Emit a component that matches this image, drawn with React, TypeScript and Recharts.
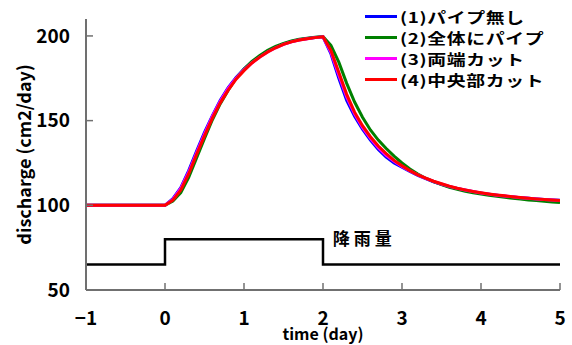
import { LineChart, Line, XAxis, YAxis, ReferenceDot } from "recharts";

const FONT = '"Noto Sans CJK JP", "Noto Sans", sans-serif';

const time = [-1, 0, 0.1, 0.2, 0.3, 0.4, 0.5, 0.6, 0.7, 0.8, 0.9, 1.0, 1.1, 1.2, 1.3, 1.4, 1.5, 1.6, 1.7, 1.8, 1.9, 2.0,
  2.1, 2.2, 2.3, 2.4, 2.5, 2.6, 2.7, 2.8, 2.9, 3.0, 3.1, 3.2, 3.3, 3.4, 3.5, 3.6, 3.7, 3.8, 3.9, 4.0,
  4.1, 4.2, 4.3, 4.4, 4.5, 4.6, 4.7, 4.8, 4.9, 5.0];

const noPipe = [100, 100, 104, 110.5, 120.5, 132, 143, 153, 162, 169.5, 175.5, 180.5, 184.5, 188, 191, 193.3, 195.2, 196.7, 197.7, 198.5, 199.1, 199.5,
  189.5, 175, 162, 152.5, 145, 138.5, 133, 128.5, 125, 122.5, 120, 117.7, 115.7, 113.9, 112.4, 111, 109.9, 108.9, 108, 107.2,
  106.5, 105.9, 105.4, 104.9, 104.5, 104.1, 103.8, 103.5, 103.2, 103];

const fullPipe = [100, 100, 102.5, 107.5, 116.5, 128, 139.5, 150.5, 160, 168, 175, 180.5, 185, 188.5, 191.5, 193.8, 195.6, 197, 198, 198.7, 199.2, 199.6,
  194.5, 184.5, 172, 161, 152, 144.5, 138.5, 133.5, 129, 125, 121.5, 118.5, 116, 114, 112.2, 110.7, 109.4, 108.3, 107.4, 106.6,
  105.9, 105.3, 104.7, 104.2, 103.7, 103.2, 102.8, 102.4, 102, 101.6];

const bothEndsCut = [100, 100, 103.5, 110, 119.5, 131, 142, 152.5, 161.5, 169, 175, 180, 184, 187.5, 190.5, 193, 195, 196.5, 197.6, 198.4, 199, 199.5,
  190.5, 177, 164, 154, 146, 139.5, 134, 129.5, 126, 123, 120.3, 117.9, 115.9, 114.1, 112.6, 111.2, 110, 109, 108.1, 107.3,
  106.6, 106, 105.5, 105, 104.5, 104.1, 103.7, 103.4, 103.1, 102.8];

const centerCut = [100, 100, 103, 109, 118.5, 130, 141, 151.5, 160.5, 168, 174.5, 179.5, 184, 187.5, 190.5, 193, 195, 196.5, 197.6, 198.4, 199, 199.5,
  191.5, 178.5, 165.5, 155, 147, 140.5, 135, 130.5, 126.5, 123.3, 120.5, 118, 116, 114.2, 112.7, 111.3, 110.1, 109.1, 108.2, 107.4,
  106.7, 106.1, 105.6, 105.1, 104.6, 104.2, 103.8, 103.4, 103.1, 102.8];

const rainTime = [-1, 0, 2, 5];
const rainValue = [65, 80, 65, 65];

const xTicks = [-1, 0, 1, 2, 3, 4, 5];
const yTicks = [50, 100, 150, 200];

const series = [
  { key: "s1", name: "(1)パイプ無し", color: "#0000ff" },
  { key: "s2", name: "(2)全体にパイプ", color: "#008000" },
  { key: "s3", name: "(3)両端カット", color: "#ff00ff" },
  { key: "s4", name: "(4)中央部カット", color: "#ff0000" },
];

const data = time.map((t, i) => ({
  t,
  s1: noPipe[i],
  s2: fullPipe[i],
  s3: bothEndsCut[i],
  s4: centerCut[i],
}));

const rain = rainTime.map((t, i) => ({ t, rain: rainValue[i] }));

const Y_GAP = 16;
const X_GAP = 22;

// ticks point into the plot, labels sit outside
const YTick = (props: any) => {
  const { x, y, payload } = props;
  return (
    <g>
      <line x1={x + Y_GAP} x2={x + Y_GAP + 7} y1={y} y2={y} stroke="#707070" strokeWidth={1.5} />
      <text x={x} y={y} dy="0.36em" textAnchor="end" fontSize={19} fontWeight="bold" fontFamily={FONT} fill="#000">
        {payload.value}
      </text>
    </g>
  );
};

const XTick = (props: any) => {
  const { x, y, payload } = props;
  return (
    <g>
      <line x1={x} x2={x} y1={y - X_GAP} y2={y - X_GAP - 7} stroke="#707070" strokeWidth={1.5} />
      <text x={x} y={y} dy="0.7em" textAnchor="middle" fontSize={19} fontWeight="bold" fontFamily={FONT} fill="#000">
        {payload.value === -1 ? "−1" : payload.value}
      </text>
    </g>
  );
};

const LegendBox = () => (
  <div
    style={{
      position: "absolute",
      left: 365,
      top: 6,
      fontFamily: FONT,
      fontWeight: "bold",
      fontSize: 14.5,
      whiteSpace: "nowrap",
    }}
  >
    {series.map((s) => (
      <div key={s.key} style={{ display: "flex", alignItems: "center", height: 21 }}>
        <div style={{ width: 32, height: 3, background: s.color, marginRight: 3 }} />
        <span
          style={{
            display: "inline-block",
            lineHeight: "15px",
            letterSpacing: 0.5,
            transform: "scaleX(1.3)",
            transformOrigin: "left center",
          }}
        >
          {s.name}
        </span>
      </div>
    ))}
  </div>
);

export default function App() {
  return (
    <div style={{ position: "absolute", left: 0, top: 0, width: 572, height: 345 }}>
      <LineChart width={572} height={345} data={data} margin={{ top: 19, right: 12, left: 10, bottom: 0 }}>
        <XAxis
          dataKey="t"
          type="number"
          domain={[-1, 5]}
          ticks={xTicks}
          allowDataOverflow
          height={55}
          tickSize={0}
          tickMargin={X_GAP}
          tick={<XTick />}
          axisLine={{ stroke: "#707070", strokeWidth: 2 }}
          label={{
            value: "time (day)",
            position: "insideBottom",
            offset: 5,
            style: { fontFamily: FONT, fontWeight: "bold", fontSize: 16, fill: "#000" },
          }}
        />
        <YAxis
          type="number"
          domain={[50, 210]}
          ticks={yTicks}
          allowDataOverflow
          width={76}
          tickSize={0}
          tickMargin={Y_GAP}
          tick={<YTick />}
          axisLine={{ stroke: "#707070", strokeWidth: 2 }}
          label={{
            value: "discharge (cm2/day)",
            angle: -90,
            position: "insideLeft",
            offset: 15,
            style: { textAnchor: "middle", fontFamily: FONT, fontWeight: "bold", fontSize: 18, fill: "#000" },
          }}
        />
        <Line
          data={rain}
          dataKey="rain"
          type="stepAfter"
          stroke="#000"
          strokeWidth={2.5}
          dot={false}
          legendType="none"
          isAnimationActive={false}
        />
        {series.map((s) => (
          <Line
            key={s.key}
            dataKey={s.key}
            name={s.name}
            type="linear"
            stroke={s.color}
            strokeWidth={3}
            dot={false}
            isAnimationActive={false}
          />
        ))}
        <ReferenceDot
          x={2.06}
          y={80}
          r={0}
          label={{
            value: "降雨量",
            position: "right",
            style: { fontFamily: FONT, fontWeight: "bold", fontSize: 17, letterSpacing: 4, fill: "#000" },
          }}
        />
      </LineChart>
      <LegendBox />
    </div>
  );
}
